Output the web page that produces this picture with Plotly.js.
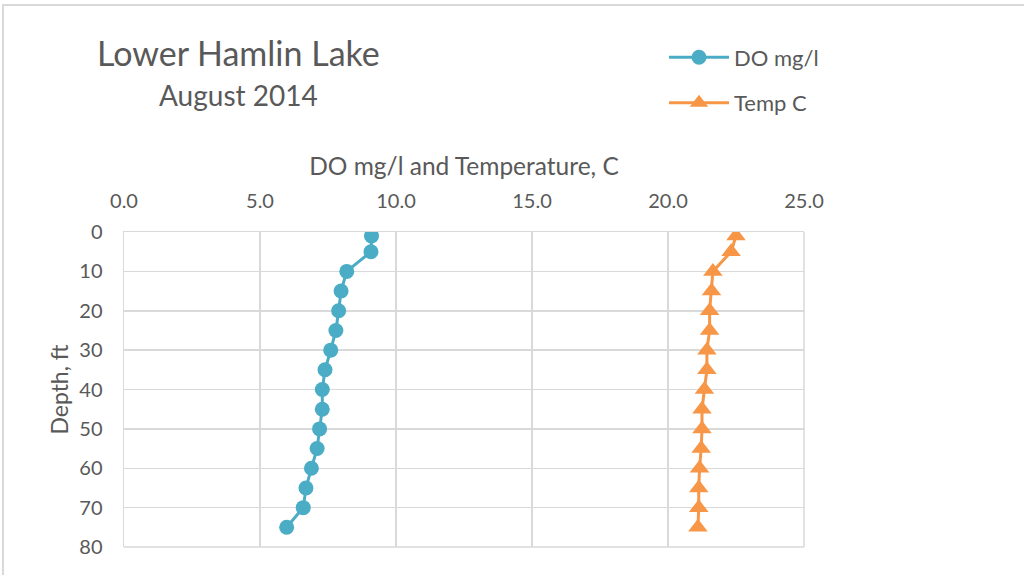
<!DOCTYPE html>
<html>
<head>
<meta charset="utf-8">
<script src="https://cdn.plot.ly/plotly-3.0.1.min.js"></script>
<style>
html,body{margin:0;padding:0;background:#fff;}
#chart{width:1024px;height:575px;}
</style>
</head>
<body>
<div id="chart"></div>
<script>
const depth = [1, 5, 10, 15, 20, 25, 30, 35, 40, 45, 50, 55, 60, 65, 70, 75];
const doMgL = [9.1, 9.08, 8.19, 7.98, 7.89, 7.79, 7.6, 7.39, 7.29, 7.29, 7.19, 7.1, 6.89, 6.69, 6.59, 5.98];
const tempC = [22.5, 22.32, 21.65, 21.6, 21.53, 21.53, 21.43, 21.43, 21.34, 21.25, 21.25, 21.22, 21.16, 21.13, 21.13, 21.1];
const xTicks = [0, 5, 10, 15, 20, 25];
const yTicks = [0, 10, 20, 30, 40, 50, 60, 70, 80];

const FONT = 'Lato, "Open Sans", sans-serif';
const TXT = '#595959';

const traces = [
  {x: doMgL, y: depth, name: 'DO mg/l', legendgroup: 'a', mode: 'lines+markers', type: 'scatter',
   line: {color: '#4BACC6', width: 3}, marker: {symbol: 'circle', size: 15, color: '#4BACC6'}},
  {x: tempC, y: depth, name: 'Temp C', legendgroup: 'b', mode: 'lines+markers', type: 'scatter',
   line: {color: '#F79646', width: 3}, marker: {symbol: 'triangle-up', size: 17, color: '#F79646'}}
];

const layout = {
  width: 1024, height: 575,
  margin: {l: 124, r: 220, t: 232, b: 28, pad: 0},
  paper_bgcolor: '#fff', plot_bgcolor: '#fff',
  font: {family: FONT, color: TXT, size: 20},
  showlegend: true,
  legend: {x: (664-124)/680, xanchor: 'left', y: 1.621, yanchor: 'top', font: {size: 22, color: TXT},
           bgcolor: 'rgba(0,0,0,0)', itemwidth: 60, traceorder: 'grouped', tracegroupgap: 14},
  xaxis: {side: 'top', range: [0, 25], tickvals: xTicks, tickformat: '.1f',
          showgrid: true, gridcolor: '#d9d9d9', gridwidth: 1.5, zeroline: false,
          showline: true, linecolor: '#d9d9d9', linewidth: 1.5,
          ticks: 'outside', ticklen: 15, tickcolor: 'rgba(0,0,0,0)',
          tickfont: {size: 20, color: TXT},
          title: {text: 'DO mg/l and Temperature, C', font: {size: 24.5, color: TXT}, standoff: 5}},
  yaxis: {range: [80, 0], tickvals: yTicks, showgrid: true, gridcolor: '#d9d9d9', gridwidth: 1.5,
          zeroline: false, showline: true, linecolor: '#d9d9d9', linewidth: 1.5,
          ticks: 'outside', ticklen: 16, tickcolor: 'rgba(0,0,0,0)',
          tickfont: {size: 20, color: TXT},
          title: {text: 'Depth, ft', font: {size: 23, color: TXT}, standoff: 4}},
  annotations: [
    {text: 'Lower Hamlin Lake', xref: 'paper', yref: 'paper', x: (238-124)/680, y: 1 + (232-52)/315,
     xanchor: 'center', yanchor: 'middle', showarrow: false, font: {size: 34, color: TXT}},
    {text: 'August 2014', xref: 'paper', yref: 'paper', x: (238-124)/680, y: 1 + (232-95)/315,
     xanchor: 'center', yanchor: 'middle', showarrow: false, font: {size: 28, color: TXT}}
  ],
  shapes: [
    {type: 'rect', xref: 'paper', yref: 'paper', x0: (3-124)/680, x1: (1030-124)/680,
     y0: 1 - (580-232)/315, y1: 1 + (232-5)/315, line: {color: '#d9d9d9', width: 2}, layer: 'below'},
    {type: 'line', xref: 'paper', yref: 'paper', x0: 1, x1: 1, y0: 0, y1: 1,
     line: {color: '#d9d9d9', width: 1.5}},
    {type: 'line', xref: 'paper', yref: 'paper', x0: 0, x1: 1, y0: 0, y1: 0,
     line: {color: '#d9d9d9', width: 1.5}}
  ]
};

Plotly.newPlot('chart', traces, layout, {displayModeBar: false, staticPlot: true});
</script>
</body>
</html>
